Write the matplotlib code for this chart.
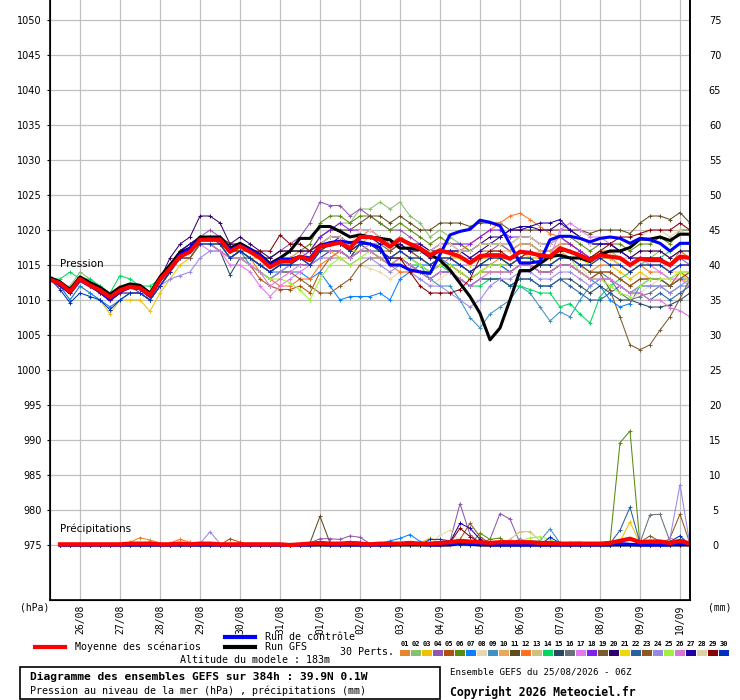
import matplotlib
matplotlib.use("Agg")
import matplotlib.pyplot as plt
from matplotlib.patches import Rectangle
from matplotlib.lines import Line2D

# GEFS ensemble diagram - sea level pressure + 6h precip, 65 steps (every 6h from 25/08 06Z)

date_labels = ['26/08', '27/08', '28/08', '29/08', '30/08', '31/08', '01/09', '02/09',
               '03/09', '04/09', '05/09', '06/09', '07/09', '08/09', '09/09', '10/09']
day_steps = [3, 7, 11, 15, 19, 23, 27, 31, 35, 39, 43, 47, 51, 55, 59, 63]

pert_colors = ['#e8832f', '#88c070', '#f0c000', '#8f58b0', '#b05010', '#5a8a10', '#0a80ff',
               '#e8d8b0', '#4090c0', '#e8a858', '#604c20', '#ff7020', '#d0c080', '#00d860',
               '#284860', '#687078', '#e078f0', '#8020f0', '#7a5a30', '#300070', '#f0d800',
               '#2860a0', '#905820', '#9888e8', '#a0f040', '#d878d0', '#2000a0', '#e0d0a8',
               '#880008', '#0030c0']

mean_pres = [1012.9, 1012.4, 1011.2, 1013.0, 1012.1, 1011.4, 1010.4, 1011.4, 1011.9, 1011.7,
             1010.7, 1012.9, 1014.5, 1016.2, 1016.9, 1018.6, 1018.6, 1018.6, 1016.9, 1017.7,
             1016.9, 1016.0, 1014.7, 1015.5, 1015.5, 1016.2, 1015.7, 1017.6, 1017.9, 1018.2,
             1017.4, 1019.0, 1019.0, 1018.6, 1017.6, 1018.7, 1018.0, 1017.4, 1016.4, 1017.1,
             1016.7, 1016.2, 1015.3, 1016.3, 1016.4, 1016.4, 1015.9, 1016.9, 1016.7, 1016.4,
             1016.2, 1017.4, 1016.9, 1016.4, 1015.7, 1016.4, 1016.2, 1016.0, 1015.0, 1015.9,
             1015.7, 1015.7, 1015.0, 1016.2, 1016.0]

ctrl_pres = [1013.0, 1012.2, 1011.0, 1012.8, 1012.0, 1011.2, 1010.0, 1011.2, 1011.8, 1011.6,
             1010.5, 1012.8, 1014.5, 1016.5, 1017.4, 1018.6, 1018.8, 1018.8, 1017.2, 1017.8,
             1017.2, 1016.4, 1015.0, 1015.8, 1015.8, 1016.2, 1016.0, 1017.8, 1018.2, 1018.4,
             1018.2, 1018.3, 1018.0, 1017.5, 1015.0, 1015.0, 1014.3, 1014.0, 1013.8, 1016.5,
             1019.3, 1019.8, 1020.1, 1021.4, 1021.1, 1020.6, 1018.0, 1015.3, 1015.3, 1015.5,
             1018.6, 1019.1, 1019.1, 1018.8, 1018.3, 1018.8, 1019.0, 1018.8, 1018.1, 1018.8,
             1018.6, 1018.1, 1017.0, 1018.1, 1018.1]

gfs_pres = [1013.2, 1012.6, 1011.5, 1013.3, 1012.5, 1011.8, 1010.8, 1011.8, 1012.3, 1012.1,
            1011.0, 1013.3, 1015.0, 1016.8, 1017.4, 1019.0, 1019.0, 1019.0, 1017.4, 1018.1,
            1017.3, 1016.5, 1015.2, 1016.0, 1017.0, 1018.8, 1018.8, 1020.5, 1020.5, 1019.8,
            1019.0, 1019.3, 1019.0, 1018.8, 1018.6, 1017.4, 1017.4, 1017.2, 1016.5, 1015.7,
            1014.3, 1012.4, 1010.5, 1008.1, 1004.3, 1006.0, 1010.0, 1014.2, 1014.2, 1015.2,
            1016.2, 1016.4, 1016.0, 1016.0, 1015.5, 1016.5, 1017.0, 1017.0, 1017.5, 1018.7,
            1018.7, 1019.0, 1018.5, 1019.4, 1019.4]

# one row per perturbation 01..30
pert_pres = [
    [1013, 1012, 1011, 1013, 1012, 1011, 1010, 1012, 1012, 1012, 1011, 1013, 1015, 1017, 1017,
     1019, 1019, 1019, 1017, 1018, 1017, 1016, 1015, 1016, 1016, 1016, 1016, 1018, 1019, 1019,
     1018, 1019, 1020, 1019, 1018, 1019, 1018, 1017, 1016, 1016, 1016, 1015, 1014, 1015, 1015,
     1016, 1015, 1016, 1016, 1015, 1015, 1016, 1016, 1015, 1014, 1015, 1015, 1015, 1014, 1015,
     1014, 1014, 1013, 1014, 1014],
    [1013, 1012, 1012, 1014, 1013, 1012, 1011, 1012, 1012, 1012, 1011, 1013, 1015, 1017, 1018,
     1019, 1019, 1019, 1018, 1018, 1017, 1016, 1015, 1016, 1016, 1017, 1017, 1019, 1020, 1021,
     1021, 1023, 1023, 1024, 1023, 1024, 1022, 1021, 1019, 1020, 1019, 1018, 1017, 1018, 1018,
     1018, 1017, 1018, 1018, 1017, 1017, 1018, 1018, 1017, 1016, 1017, 1017, 1016, 1015, 1016,
     1016, 1017, 1016, 1017, 1017],
    [1013, 1012, 1010, 1012, 1011, 1010, 1008, 1010, 1010, 1010, 1008.4, 1011, 1013, 1015, 1016,
     1018, 1018, 1018, 1016, 1017, 1016, 1015, 1014, 1015, 1015, 1016, 1015, 1017, 1017, 1016,
     1016, 1017, 1017, 1016, 1016, 1017, 1016, 1016, 1015, 1016, 1016, 1015, 1014, 1015, 1016,
     1016, 1015, 1016, 1017, 1016, 1016, 1017, 1016, 1015, 1015, 1016, 1015, 1014, 1013, 1014,
     1013, 1013, 1012, 1013, 1012.5],
    [1013, 1012, 1011, 1013, 1012, 1011, 1010, 1011, 1012, 1012, 1011, 1013, 1015, 1017, 1018,
     1019, 1020, 1019, 1018, 1018, 1017, 1016, 1016, 1017, 1018, 1019, 1021, 1024, 1023.5, 1023.5,
     1022, 1023, 1022, 1021, 1020, 1020, 1019, 1018, 1017, 1018, 1018, 1017, 1016, 1017, 1017,
     1018, 1017, 1018, 1018, 1017, 1017, 1018, 1018, 1017, 1016, 1017, 1016, 1016, 1015, 1016,
     1016, 1016, 1015, 1016, 1015],
    [1013, 1012, 1011, 1013, 1012, 1011, 1010, 1011, 1011, 1011, 1010, 1012, 1014, 1016, 1016,
     1018, 1018, 1018, 1016, 1016, 1015, 1013, 1012, 1011.5, 1011.5, 1012, 1011, 1014, 1016, 1017,
     1016, 1018, 1018, 1017, 1016, 1017, 1016, 1015, 1014, 1015, 1015, 1014, 1013, 1014, 1015,
     1015, 1014, 1015, 1015, 1014, 1014, 1015, 1015, 1014, 1013, 1014, 1014, 1013, 1012, 1013,
     1013, 1013, 1012, 1014, 1013],
    [1013, 1012, 1011, 1013, 1012, 1011, 1010, 1011, 1012, 1012, 1011, 1013, 1015, 1017, 1017,
     1019, 1019, 1019, 1017, 1018, 1017, 1016, 1015, 1016, 1017, 1017, 1018, 1021, 1022, 1022,
     1021, 1022, 1022, 1021, 1020, 1021, 1020, 1019, 1018, 1019, 1018, 1018, 1017, 1018, 1018,
     1018, 1018, 1019, 1019, 1018, 1018, 1019, 1019, 1018, 1017, 1018, 1018, 1018, 1017, 1018,
     1018, 1019, 1018, 1020, 1020],
    [1013, 1012, 1010, 1012, 1011, 1010, 1009, 1010, 1011, 1011, 1010, 1012, 1014, 1016, 1016,
     1018, 1018, 1018, 1016, 1017, 1016, 1015, 1014, 1014, 1014, 1014, 1013, 1014, 1012, 1010,
     1010.5, 1010.5, 1010.5, 1011, 1010, 1013, 1014, 1015, 1015, 1016, 1015, 1015, 1014, 1015, 1015,
     1015, 1014, 1015, 1015, 1014, 1014, 1015, 1015, 1014, 1013, 1012, 1010, 1009, 1009.5, 1012,
     1013, 1013, 1012, 1013, 1013],
    [1013, 1012, 1011, 1013, 1012, 1011, 1010, 1011, 1011, 1011, 1010, 1012, 1014, 1016, 1016,
     1018, 1018, 1018, 1016, 1017, 1016, 1015, 1014, 1015, 1015, 1015, 1015, 1016, 1016, 1016,
     1015, 1015, 1014.5, 1014, 1013, 1014, 1014, 1013, 1012, 1013, 1014, 1014, 1013, 1014, 1015,
     1015, 1015, 1016, 1016, 1015, 1015, 1016, 1016, 1015, 1013, 1013, 1012, 1011, 1010, 1011,
     1012, 1013, 1013, 1014, 1014],
    [1013, 1012, 1011, 1013, 1012, 1011, 1010, 1011, 1012, 1012, 1011, 1013, 1015, 1016, 1017,
     1018, 1018, 1018, 1016, 1017, 1015, 1014, 1013, 1014, 1015, 1015, 1015, 1017, 1017, 1017,
     1016, 1018, 1018, 1017, 1016, 1017, 1016, 1015, 1013, 1012, 1012, 1010, 1007.5, 1006, 1008,
     1009, 1010, 1012, 1011, 1009, 1007, 1008.3, 1007.6, 1010, 1012, 1013, 1013, 1012, 1011, 1012,
     1012, 1012, 1011, 1012, 1012],
    [1013, 1012, 1011, 1013, 1012, 1011, 1011, 1012, 1012, 1012, 1011, 1013, 1015, 1017, 1018,
     1019, 1019, 1019, 1018, 1018, 1017, 1016, 1015, 1016, 1016, 1017, 1016, 1018, 1019, 1019,
     1018, 1019, 1019, 1019, 1018, 1019, 1018, 1017, 1017, 1017, 1017, 1016, 1016, 1017, 1017,
     1017, 1017, 1018, 1018, 1017, 1017, 1018, 1018, 1017, 1016, 1017, 1017, 1016, 1016, 1017,
     1017, 1017, 1016, 1017, 1016],
    [1013, 1012, 1011, 1013, 1012, 1011, 1010, 1011, 1012, 1012, 1011, 1013, 1015, 1017, 1018,
     1019, 1019, 1019, 1018, 1018, 1017, 1016, 1016, 1017, 1017, 1017, 1017, 1019, 1020, 1020,
     1020, 1021, 1022, 1022, 1021, 1022, 1021, 1020, 1020, 1021, 1021, 1021, 1020.5, 1021, 1021,
     1021, 1020, 1020, 1020, 1020, 1020, 1020, 1020, 1020, 1019.5, 1020, 1020, 1020, 1019.5, 1021,
     1022, 1022, 1021.5, 1022.5, 1021],
    [1013, 1012, 1011, 1013, 1012, 1011, 1010, 1011, 1011, 1011, 1010, 1012, 1014, 1016, 1017,
     1018, 1018, 1018, 1016, 1017, 1016, 1014, 1013, 1012, 1012, 1013, 1013, 1015, 1016, 1017,
     1016, 1017, 1017, 1016, 1015, 1014, 1014, 1014, 1014, 1015, 1016, 1017, 1018, 1019, 1020,
     1021, 1022, 1022.4, 1021.5, 1020.5, 1019.5, 1019, 1018, 1017, 1016, 1017, 1016, 1016, 1015, 1016,
     1016, 1016, 1015, 1017, 1016],
    [1013, 1012, 1011, 1013, 1012, 1011, 1010, 1011, 1012, 1012, 1011, 1013, 1014, 1016, 1017,
     1018, 1018, 1018, 1017, 1017, 1016, 1016, 1015, 1015, 1016, 1016, 1016, 1017, 1018, 1018,
     1017, 1018, 1019, 1018, 1017, 1018, 1017, 1017, 1016, 1016, 1016, 1016, 1015, 1016, 1016,
     1016, 1016, 1017, 1016, 1016, 1016, 1017, 1016, 1016, 1015, 1016, 1016, 1015, 1014, 1015,
     1015, 1015, 1014, 1015, 1015],
    [1013, 1013, 1014, 1013, 1013, 1012, 1011, 1013.5, 1013, 1012, 1012, 1013, 1015, 1016, 1017,
     1018, 1018, 1018, 1017, 1017, 1016, 1015, 1015, 1015, 1016, 1016, 1015, 1017, 1017, 1017,
     1016, 1017, 1017, 1016, 1016, 1016, 1015, 1015, 1014, 1015, 1014, 1013, 1012, 1012, 1013,
     1013, 1012, 1012, 1011.5, 1011, 1011, 1009, 1009.5, 1008, 1006.7, 1010.5, 1012, 1013, 1014, 1015,
     1016, 1016, 1017, 1018, 1018],
    [1013, 1012, 1011, 1013, 1012, 1011, 1010, 1011, 1012, 1011, 1010, 1012, 1014, 1016, 1017,
     1018, 1018, 1017, 1013.6, 1016, 1016, 1015, 1014, 1015, 1015, 1015, 1015, 1017, 1017, 1017,
     1016, 1018, 1017, 1017, 1016, 1016, 1015, 1014, 1013, 1014, 1014, 1013, 1012, 1013, 1013,
     1013, 1012, 1013, 1013, 1012, 1012, 1013, 1013, 1012, 1011, 1012, 1011, 1010, 1010, 1009.5,
     1009, 1009, 1009.3, 1010, 1011],
    [1013, 1012, 1011, 1013, 1012, 1011, 1010, 1011, 1011, 1011, 1010, 1012, 1014, 1016, 1017,
     1018, 1018, 1018, 1016, 1017, 1016, 1015, 1014, 1015, 1015, 1016, 1015, 1017, 1018, 1018,
     1017, 1018, 1018, 1018, 1017, 1018, 1017, 1016, 1015, 1016, 1016, 1015, 1014, 1015, 1015,
     1015, 1015, 1016, 1016, 1015, 1015, 1016, 1016, 1015, 1014, 1014, 1013, 1011, 1010, 1010.5,
     1011, 1012, 1012, 1013, 1014],
    [1013, 1012, 1011, 1013, 1012, 1011, 1010, 1011, 1012, 1012, 1011, 1013, 1014, 1016, 1016,
     1018, 1017, 1017, 1015, 1015, 1014, 1012, 1010.5, 1012, 1013, 1014, 1015, 1016, 1017, 1017,
     1016, 1017, 1018, 1017, 1016, 1017, 1016, 1016, 1015, 1016, 1016, 1015, 1015, 1016, 1016,
     1016, 1016, 1017, 1017, 1016, 1016, 1020, 1021, 1020, 1019, 1019, 1018, 1017, 1016, 1016,
     1015, 1014, 1013, 1013, 1012],
    [1013, 1012, 1011, 1013, 1012, 1011, 1010, 1011, 1012, 1012, 1011, 1013, 1015, 1017, 1018,
     1019, 1019, 1019, 1017, 1018, 1017, 1016, 1015, 1016, 1016, 1016, 1017, 1019, 1020, 1021,
     1020, 1020, 1020, 1019, 1018, 1019, 1018, 1017, 1017, 1018, 1018, 1018, 1018, 1019, 1020,
     1020, 1019, 1019, 1019, 1018, 1018, 1019, 1018, 1017, 1016, 1016, 1016, 1015, 1014, 1015,
     1015, 1015, 1014, 1015, 1015],
    [1013, 1012, 1011, 1013, 1012, 1011, 1010, 1011, 1012, 1012, 1011, 1013, 1014, 1016, 1017,
     1018, 1018, 1018, 1016, 1017, 1016, 1015, 1014, 1015, 1016, 1016, 1016, 1017, 1018, 1018,
     1017, 1018, 1018, 1017, 1017, 1018, 1017, 1016, 1015, 1016, 1016, 1015, 1014, 1015, 1016,
     1016, 1015, 1016, 1016, 1015, 1015, 1016, 1016, 1015, 1014, 1013.9, 1011.4, 1007.6, 1003.6, 1002.9,
     1003.6, 1005.7, 1007.6, 1010.2, 1013],
    [1013, 1012, 1011, 1013, 1012, 1011, 1010, 1011, 1012, 1012, 1011, 1013, 1016, 1018, 1019,
     1022, 1022, 1021, 1018, 1019, 1018, 1017, 1016, 1017, 1017, 1017, 1017, 1018, 1019, 1019,
     1018, 1019, 1019, 1019, 1018, 1019, 1018, 1018, 1017, 1017, 1017, 1017, 1017, 1018, 1019,
     1019, 1020, 1020, 1020.5, 1020, 1020, 1021, 1020, 1019, 1018, 1018, 1018, 1017, 1016, 1017,
     1017, 1017, 1016, 1017, 1017],
    [1013, 1012, 1011, 1013, 1012, 1011, 1010, 1011, 1012, 1012, 1011, 1013, 1014, 1016, 1017,
     1018, 1018, 1018, 1017, 1017, 1016, 1016, 1015, 1015, 1016, 1016, 1016, 1017, 1018, 1018,
     1017, 1017, 1017, 1016, 1016, 1017, 1016, 1016, 1015, 1016, 1016, 1016, 1015, 1016, 1016,
     1016, 1016, 1017, 1016, 1016, 1016, 1017, 1017, 1016, 1015, 1016, 1016, 1015, 1014, 1015,
     1015, 1015, 1014, 1014, 1012.5],
    [1013, 1012, 1011, 1013, 1012, 1011, 1010, 1011, 1011, 1011, 1010, 1012, 1014, 1016, 1016,
     1018, 1018, 1018, 1016, 1017, 1016, 1015, 1014, 1015, 1015, 1015, 1015, 1016, 1017, 1017,
     1016, 1017, 1017, 1016, 1015, 1016, 1015, 1014, 1013, 1014, 1014, 1013, 1012, 1013, 1013,
     1013, 1012, 1013, 1013, 1012, 1012, 1013, 1012, 1011, 1010, 1010, 1011, 1012, 1011, 1011,
     1010, 1011, 1010, 1011, 1012],
    [1013, 1012, 1011, 1013, 1012, 1011, 1010, 1011, 1011, 1011, 1010, 1012, 1014, 1016, 1016,
     1018, 1018, 1017, 1016, 1016, 1015, 1014, 1013, 1014, 1014, 1013, 1012, 1011, 1011, 1012,
     1013, 1015, 1016, 1016, 1015, 1016, 1015, 1014, 1014, 1015, 1015, 1014, 1013, 1014, 1014,
     1014, 1014, 1015, 1015, 1014, 1014, 1015, 1015, 1014, 1013, 1014, 1014, 1013, 1012, 1013,
     1013, 1013, 1012, 1013, 1014],
    [1013, 1012, 1011, 1013, 1012, 1011, 1010, 1011, 1011, 1011, 1010, 1012, 1013, 1013.5, 1014,
     1016, 1017, 1017, 1016, 1016, 1015, 1014, 1013, 1014, 1015, 1015, 1015, 1016, 1016, 1016,
     1015, 1016, 1016, 1015, 1014, 1015, 1014, 1013, 1012, 1012, 1011, 1010, 1009, 1010, 1012,
     1013, 1013, 1014, 1014, 1013, 1013, 1014, 1014, 1013, 1012, 1013, 1013, 1012, 1011, 1012,
     1012, 1012, 1011, 1012, 1013],
    [1013, 1012, 1011, 1013, 1012, 1011, 1010, 1011, 1012, 1012, 1011, 1013, 1014, 1016, 1017,
     1018, 1018, 1018, 1016, 1016, 1015, 1014, 1013, 1013, 1012.5, 1011.4, 1010, 1013, 1015, 1016,
     1015, 1016, 1017, 1016, 1015, 1016, 1016, 1015, 1014, 1015, 1015, 1014, 1013, 1014, 1015,
     1015, 1015, 1016, 1016, 1015, 1015, 1016, 1016, 1014, 1013, 1013, 1012, 1011, 1010.5, 1012,
     1013, 1013, 1013, 1014, 1014],
    [1013, 1012, 1011, 1013, 1012, 1011, 1010, 1011, 1012, 1012, 1011, 1013, 1014, 1016, 1017,
     1018, 1018, 1017, 1016, 1016, 1015, 1014, 1012, 1013, 1014, 1015, 1015, 1017, 1017, 1017,
     1016, 1017, 1017, 1016, 1015, 1016, 1015, 1014, 1013, 1014, 1014, 1013, 1012, 1013, 1014,
     1014, 1014, 1015, 1015, 1014, 1014, 1015, 1015, 1014, 1013, 1013, 1013, 1012, 1011, 1011,
     1010, 1010, 1008.9, 1008.5, 1007.6],
    [1013, 1012, 1011, 1013, 1012, 1011, 1010, 1011, 1012, 1012, 1011, 1013, 1015, 1017, 1018,
     1019, 1019, 1019, 1017, 1018, 1017, 1016, 1015, 1016, 1016, 1016, 1016, 1018, 1018, 1019,
     1018, 1019, 1019, 1018, 1018, 1018, 1017, 1017, 1016, 1017, 1017, 1017, 1016, 1017, 1018,
     1019, 1020, 1020.5, 1020.5, 1021, 1021, 1021.5, 1020, 1019, 1018, 1018, 1018, 1017, 1016, 1016,
     1016, 1016, 1015, 1016, 1016],
    [1013, 1012, 1011, 1013, 1012, 1011, 1010, 1011, 1012, 1012, 1011, 1013, 1015, 1017, 1017,
     1019, 1019, 1019, 1017, 1018, 1017, 1016, 1015, 1016, 1016, 1016, 1016, 1018, 1019, 1019,
     1018, 1020, 1020, 1019, 1018, 1019, 1018, 1017, 1017, 1018, 1018, 1017, 1017, 1018, 1018,
     1018, 1018, 1019, 1019, 1018, 1018, 1019, 1019, 1019, 1018, 1019, 1019, 1019, 1018, 1019,
     1020, 1020, 1019, 1020, 1019],
    [1013, 1012, 1011, 1013, 1012, 1011, 1010, 1011, 1012, 1012, 1011, 1013, 1015, 1017, 1017,
     1019, 1019, 1018, 1017, 1017, 1017, 1017, 1017, 1019.3, 1018, 1018, 1017, 1018, 1018, 1018,
     1017, 1018, 1018, 1017, 1016, 1016, 1014, 1012, 1011, 1011, 1011, 1011.5, 1013, 1016, 1017,
     1017, 1016, 1016, 1017, 1016, 1016, 1017, 1017, 1016, 1016, 1017, 1018, 1019, 1019, 1019.5,
     1020, 1020, 1020, 1021, 1020],
    [1013, 1011.5, 1009.6, 1011, 1010.5, 1010, 1008.6, 1010, 1011, 1011, 1010, 1012, 1014, 1016, 1017,
     1018, 1018, 1018, 1016, 1017, 1016, 1015, 1014, 1015, 1015, 1016, 1015, 1017, 1018, 1018,
     1017, 1018, 1018, 1017, 1016, 1017, 1016, 1016, 1015, 1016, 1016, 1015, 1014, 1015, 1016,
     1016, 1015, 1016, 1016, 1015, 1015, 1016, 1016, 1015, 1015, 1016, 1015, 1015, 1014, 1015,
     1015, 1015, 1014, 1015, 1015],
]

# 6h precipitation (mm), steps 1..64
mean_precip = [0.1, 0.1, 0.1, 0.1, 0.1, 0.1, 0.1, 0.2, 0.2, 0.2,
               0.1, 0.1, 0.2, 0.1, 0.2, 0.2, 0.1, 0.1, 0.1, 0.1,
               0.1, 0.1, 0.1, 0.0, 0.1, 0.2, 0.3, 0.2, 0.2, 0.3,
               0.2, 0.1, 0.2, 0.2, 0.2, 0.3, 0.2, 0.2, 0.3, 0.4,
               0.6, 0.5, 0.4, 0.3, 0.4, 0.4, 0.4, 0.4, 0.3, 0.3,
               0.2, 0.2, 0.2, 0.2, 0.2, 0.3, 0.6, 0.9, 0.4, 0.5,
               0.5, 0.3, 0.6, 0.2]
ctrl_precip = [0, 0, 0, 0, 0, 0, 0, 0, 0, 0,
               0, 0, 0, 0, 0, 0, 0, 0, 0, 0,
               0, 0, 0, 0, 0, 0, 0.1, 0, 0, 0,
               0, 0, 0, 0, 0.1, 0.2, 0.1, 0, 0, 0.1,
               0.3, 0.2, 0.1, 0, 0, 0, 0, 0, 0, 0,
               0, 0, 0, 0, 0, 0, 0.2, 0.1, 0, 0,
               0, 0, 0.2, 0]
gfs_precip = [0, 0, 0, 0, 0, 0, 0, 0, 0, 0,
              0, 0, 0, 0, 0, 0, 0, 0, 0, 0,
              0, 0, 0, 0, 0, 0, 0, 0, 0, 0,
              0, 0, 0, 0, 0, 0, 0, 0, 0, 0,
              0.2, 0.1, 0, 0, 0, 0, 0, 0, 0, 0,
              0, 0, 0, 0, 0, 0, 0, 0, 0, 0,
              0, 0, 0, 0]
# (perturbation, step, mm) - everything else is dry
pert_precip_events = [
    (1, 8, 0.4), (1, 9, 1.05), (1, 10, 0.7), (1, 11, 0.3),
    (12, 12, 0.3), (12, 13, 0.8), (12, 14, 0.4), (26, 10, 0.5), (26, 11, 0.2),
    (24, 15, 0.2), (24, 16, 1.9), (24, 17, 0.2), (5, 18, 0.9), (5, 19, 0.4),
    (11, 26, 0.3), (11, 27, 4.1), (11, 28, 0.3),
    (4, 26, 0.3), (4, 27, 0.9), (4, 28, 0.9), (4, 29, 0.8), (4, 30, 1.3), (4, 31, 1.1), (4, 32, 0.2),
    (18, 30, 0.5), (18, 31, 0.4),
    (7, 33, 0.2), (7, 34, 0.6), (7, 35, 0.95), (7, 36, 1.5), (7, 37, 0.5),
    (3, 37, 0.3), (3, 38, 0.95), (3, 39, 0.3), (30, 38, 0.8), (30, 39, 0.8), (30, 40, 0.6),
    (8, 39, 1.4), (8, 40, 2.1), (8, 41, 0.4),
    (4, 40, 0.5), (4, 41, 5.9), (4, 42, 1.5), (4, 43, 0.3), (4, 44, 0.8), (4, 45, 4.5), (4, 46, 3.7), (4, 47, 0.3),
    (27, 40, 0.4), (27, 41, 3.1), (27, 42, 2.4), (27, 43, 0.8),
    (29, 40, 0.3), (29, 41, 2.4), (29, 42, 1.2), (29, 43, 0.3),
    (23, 41, 0.8), (23, 42, 3.1), (23, 43, 1.2), (23, 44, 0.2),
    (6, 43, 1.7), (6, 44, 0.8), (6, 45, 1.0),
    (13, 46, 0.8), (13, 47, 1.9), (13, 48, 1.9), (13, 49, 0.6),
    (25, 47, 0.6), (25, 48, 1.0), (25, 49, 1.2), (25, 50, 0.8),
    (9, 47, 0.9), (9, 48, 0.3), (9, 49, 0.6), (9, 50, 2.3), (9, 51, 0.3), (9, 53, 0.3),
    (30, 50, 1.1), (30, 51, 0.3), (14, 48, 0.6), (14, 49, 0.5), (28, 52, 0.4), (28, 53, 0.5),
    (6, 56, 0.3), (6, 57, 14.6), (6, 58, 16.3),
    (22, 56, 0.2), (22, 57, 2.1), (22, 58, 5.4), (22, 59, 0.3),
    (3, 57, 0.5), (3, 58, 3.3), (3, 59, 0.2),
    (16, 59, 0.3), (16, 60, 4.3), (16, 61, 4.4), (16, 62, 0.5),
    (19, 59, 0.4), (19, 60, 1.3), (19, 61, 0.5), (25, 61, 0.6), (25, 62, 0.6),
    (24, 62, 1.0), (24, 63, 8.6), (23, 62, 1.0), (23, 63, 4.4), (23, 64, 0.2),
    (30, 62, 0.5), (30, 63, 1.3), (14, 63, 0.8),
]

BASE = 975  # precip zero sits on the 975 hPa line
W, H = 740, 700
steps = list(range(len(mean_pres)))
psteps = list(range(1, len(mean_precip) + 1))

pert_precip = [[0.0] * len(psteps) for _ in pert_colors]
for m, s, v in pert_precip_events:
    pert_precip[m - 1][s - 1] = v

mono = 'DejaVu Sans Mono'
fig = plt.figure(figsize=(W / 100, H / 100), dpi=100)
ax = fig.add_axes([50 / W, 100 / H, 640 / W, 600 / H])

thin = dict(lw=0.75, marker='+', ms=3, mew=0.7)
for col, pres, pr in zip(pert_colors, pert_pres, pert_precip):
    ax.plot(steps, pres, color=col, **thin)
    ax.plot(psteps, [BASE + v for v in pr], color=col, **thin)

ax.plot(steps, gfs_pres, color='black', lw=2.2)
ax.plot(psteps, [BASE + v for v in gfs_precip], color='black', lw=2.2)
ax.plot(steps, ctrl_pres, color='#0000ff', lw=2.2)
ax.plot(psteps, [BASE + v for v in ctrl_precip], color='#0000ff', lw=2.2)
ax.plot(steps, mean_pres, color='#ff0000', lw=3.0)
ax.plot(psteps, [BASE + v for v in mean_precip], color='#ff0000', lw=3.0)

ax.set_xlim(0, 64)
ax.set_ylim(975 - 55 / 7, 1050 + 20 / 7)
ax.set_xticks(day_steps)
ax.set_xticklabels(date_labels, rotation=90, family=mono, fontsize=7)
ax.set_yticks(range(975, 1051, 5))
ax.grid(True, color='#c0c0c0', lw=0.9)
ax.set_axisbelow(True)
ax.tick_params(axis='x', length=0, pad=3)
ax.tick_params(axis='y', length=2, pad=4, labelsize=7)
ax.spines['top'].set_visible(False)
for s in ('left', 'bottom', 'right'):
    ax.spines[s].set_linewidth(1.2)

ax2 = ax.twinx()
lo, hi = ax.get_ylim()
ax2.set_ylim(lo - BASE, hi - BASE)
ax2.set_yticks(range(0, 76, 5))
ax2.tick_params(axis='y', length=0, pad=18, labelsize=7)
for lab in ax2.get_yticklabels():
    lab.set_horizontalalignment('center')
ax2.spines['top'].set_visible(False)
ax2.spines['right'].set_linewidth(1.2)

ax.text(1, 1015.1, 'Pression', fontsize=7.5, va='center')
ax.text(1, 977.3, 'Précipitations', fontsize=7.5, va='center')


def px(x, y):
    return x / W, 1 - y / H


fig.text(*px(20, 607), '(hPa)', family=mono, fontsize=7, va='center')
fig.text(*px(708, 607), '(mm)', family=mono, fontsize=7, va='center')

# legend lines
for (x0, y0), col, lab in [((35, 647), '#ff0000', 'Moyenne des scénarios'),
                           ((225, 637), '#0000ff', 'Run de contrôle'),
                           ((225, 647), 'black', 'Run GFS')]:
    fig.add_artist(Line2D([x0 / W, (x0 + 30) / W], [1 - y0 / H] * 2, color=col, lw=3))
    fig.text(*px(x0 + 40, y0), lab, family=mono, fontsize=7.2, va='center')

fig.text(*px(180, 660), 'Altitude du modele : 183m', family=mono, fontsize=7.2, va='center')
fig.text(*px(340, 652), '30 Perts.', family=mono, fontsize=7.2, va='center')
for k, col in enumerate(pert_colors):
    x0 = 400 + 11 * k
    fig.text(*px(x0 + 5, 644), '%02d' % (k + 1), family=mono, fontsize=5, weight='bold',
             ha='center', va='center')
    fig.add_artist(Rectangle(px(x0, 656), 10 / W, 6 / H, color=col, lw=0))

fig.add_artist(Rectangle(px(20, 699), 420 / W, 32 / H, fill=False, ec='black', lw=1.2))
fig.text(*px(30, 677), 'Diagramme des ensembles GEFS sur 384h : 39.9N 0.1W',
         family=mono, fontsize=8.1, weight='bold', va='center')
fig.text(*px(30, 691), 'Pression au niveau de la mer (hPa) , précipitations (mm)',
         family=mono, fontsize=7.2, va='center')
fig.text(*px(450, 672), 'Ensemble GEFS du 25/08/2026 - 06Z', family=mono, fontsize=6.6, va='center')
fig.text(*px(450, 692), 'Copyright 2026 Meteociel.fr', family=mono, fontsize=8.3,
         weight='bold', va='center')

fig.savefig('out.png', dpi=100)
